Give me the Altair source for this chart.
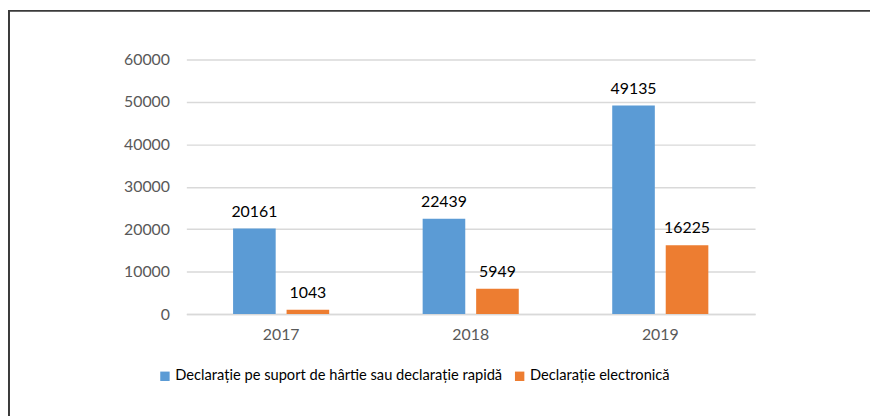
import altair as alt
import pandas as pd

years = ["2017", "2018", "2019"]
series = ["Declarație pe suport de hârtie sau declarație rapidă", "Declarație electronică"]
paper = [20161, 22439, 49135]
electronic = [1043, 5949, 16225]
colors = ["#5B9BD5", "#ED7D31"]

rows = []
for i, y in enumerate(years):
    rows.append({"year": y, "series": series[0], "value": paper[i]})
    rows.append({"year": y, "series": series[1], "value": electronic[i]})
df = pd.DataFrame(rows)

FONT = "Lato"

x = alt.X("year:N", title=None, sort=years,
          scale=alt.Scale(paddingInner=0.493, paddingOuter=0.2465),
          axis=alt.Axis(labelAngle=0, ticks=False, labelPadding=13, labelFontSize=16,
                        labelColor="#595959", labelFont=FONT, domainColor="#d9d9d9",
                        domainWidth=1.5))
xo = alt.XOffset("series:N", sort=series,
                 scale=alt.Scale(paddingInner=0.2037, paddingOuter=0))
yenc = alt.Y("value:Q", title=None,
             scale=alt.Scale(domain=[0, 60000], nice=False),
             axis=alt.Axis(values=[0, 10000, 20000, 30000, 40000, 50000, 60000],
                           format="d", ticks=False, domain=False, labelPadding=17,
                           labelFontSize=16, labelColor="#595959", labelFont=FONT,
                           gridColor="#d9d9d9", gridWidth=1.5))
color = alt.Color("series:N", sort=series,
                  scale=alt.Scale(domain=series, range=colors),
                  legend=alt.Legend(title=None, orient="none", direction="horizontal",
                                    legendX=-29, legendY=312, symbolType="square",
                                    symbolSize=90, symbolStrokeWidth=0, labelFontSize=14.8,
                                    labelFont=FONT, labelColor="#000000", labelLimit=600,
                                    columnPadding=10, symbolOffset=0, labelOffset=3))

base = alt.Chart(df)
bars = base.mark_bar().encode(x=x, xOffset=xo, y=yenc, color=color)
labels = base.mark_text(baseline="bottom", dy=-9, fontSize=16, font=FONT, color="#000000").encode(
    x=x, xOffset=xo, y=yenc, text=alt.Text("value:Q", format="d"))

frame_top = alt.Chart(pd.DataFrame({"a": [0]})).mark_rule(color="#3a3a3a", strokeWidth=2).encode(
    x=alt.value(-181), x2=alt.value(800), y=alt.value(-49))
frame_left = alt.Chart(pd.DataFrame({"a": [0]})).mark_rule(color="#3a3a3a", strokeWidth=2).encode(
    x=alt.value(-179), y=alt.value(-50), y2=alt.value(360))

chart = alt.layer(bars, labels, frame_top, frame_left).properties(
    width=574, height=257,
    autosize=alt.AutoSizeParams(type="none"),
    padding={"left": 180, "top": 50, "right": 116, "bottom": 102},
).configure_view(stroke=None)

chart.save("out.html", embed_options={"renderer": "svg", "actions": False})
